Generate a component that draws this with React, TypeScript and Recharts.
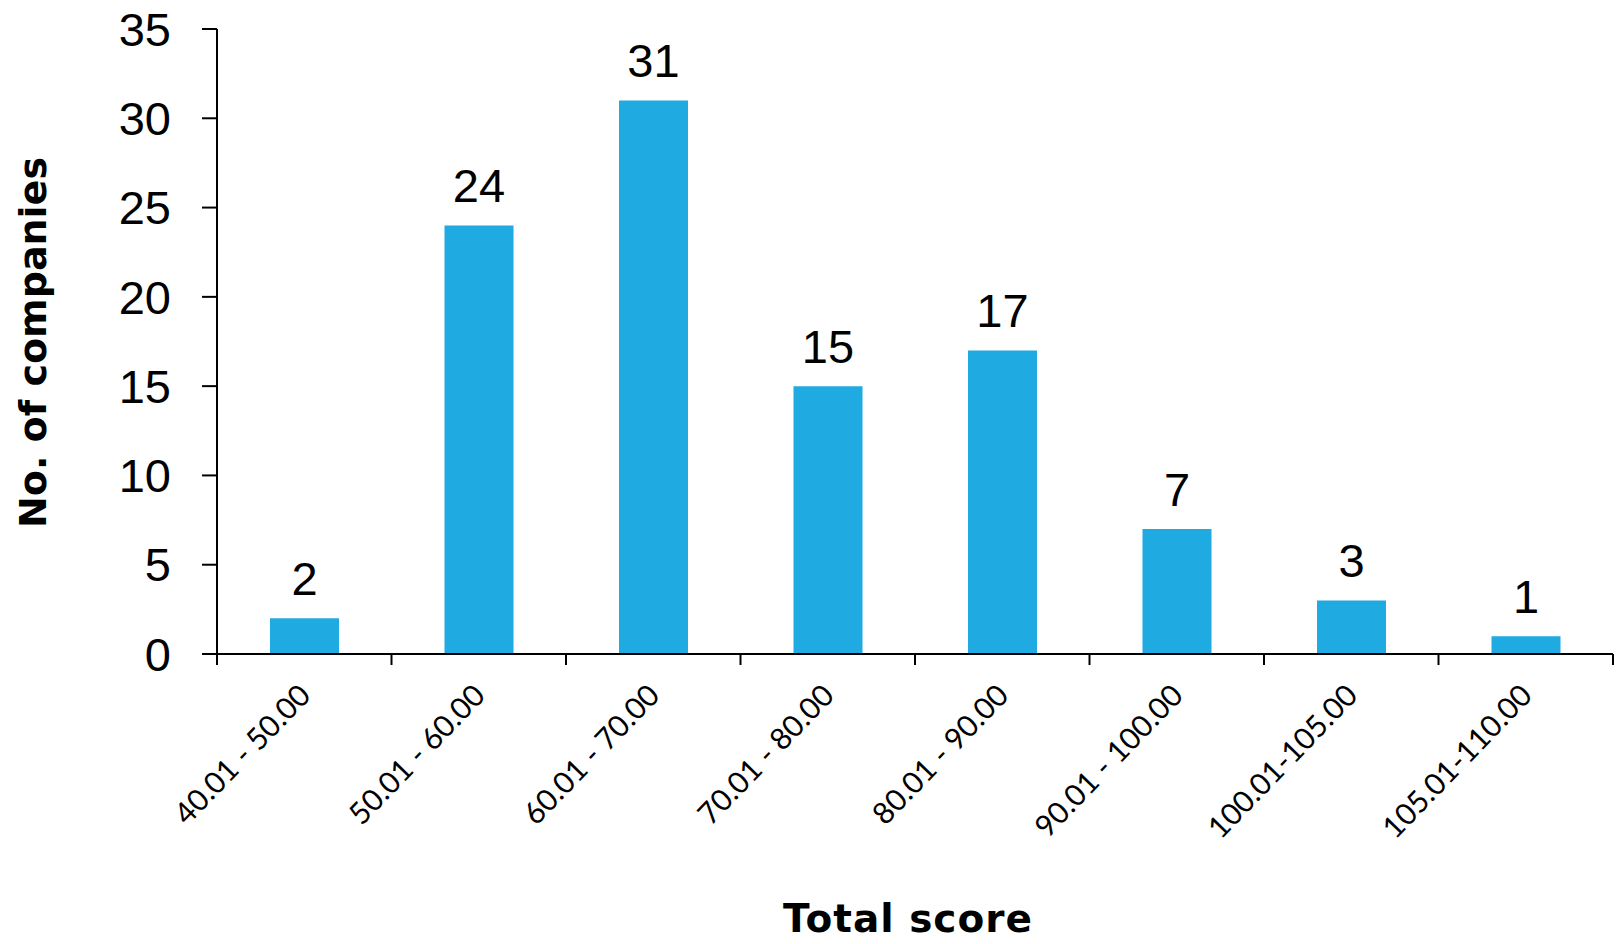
import React from 'react';
import { BarChart, Bar, XAxis, YAxis, LabelList, Label } from 'recharts';

const categories = [
  '40.01 - 50.00',
  '50.01 - 60.00',
  '60.01 - 70.00',
  '70.01 - 80.00',
  '80.01 - 90.00',
  '90.01 - 100.00',
  '100.01-105.00',
  '105.01-110.00',
];
const companies = [2, 24, 31, 15, 17, 7, 3, 1];
const yTicks = [0, 5, 10, 15, 20, 25, 30, 35];

const data = categories.map((c, i) => ({ range: c, count: companies[i] }));

const W = 1622;
const H = 944;
const M = { top: 29, right: 9, left: 0, bottom: 0 };
const Y_W = 217;
const X_H = 290;
const PLOT_W = W - M.left - M.right - Y_W;
const BAND = PLOT_W / categories.length;

const REG = "Lato, 'Liberation Sans', sans-serif";
const TICK = "'Liberation Sans', Arial, sans-serif";
const BOLD = "'DejaVu Sans', sans-serif";
const BAR = '#1FAAE1';

function XTick(props: any) {
  const { x, y, payload, index } = props;
  const left = x - BAND / 2;
  const right = x + BAND / 2;
  const tx = x + 8;
  const ty = y + 43;
  return (
    <g>
      <line x1={left} y1={y} x2={left} y2={y + 11} stroke="#000" strokeWidth={2} />
      {index === categories.length - 1 && (
        <line x1={right} y1={y} x2={right} y2={y + 11} stroke="#000" strokeWidth={2} />
      )}
      <text
        x={tx}
        y={ty}
        transform={`rotate(-46 ${tx} ${ty})`}
        textAnchor="end"
        fontSize={30}
        fontFamily={REG}
        fill="#000"
      >
        {payload.value}
      </text>
    </g>
  );
}

export default function App() {
  return (
    <div style={{ width: W, height: H, margin: '-8px 0 0 -8px' }}>
      <BarChart width={W} height={H} data={data} margin={M}>
        <XAxis
          dataKey="range"
          type="category"
          height={X_H}
          tickSize={0}
          tickMargin={0}
          tickLine={false}
          axisLine={{ stroke: '#000', strokeWidth: 2 }}
          tick={<XTick />}
          interval={0}
        >
          <Label
            content={(p: any) => {
              const vb = p.viewBox;
              return (
                <text
                  x={vb.x + vb.width / 2 - 7}
                  y={vb.y + 264}
                  textAnchor="middle"
                  dominantBaseline="central"
                  fontSize={39}
                  letterSpacing={1}
                  fontWeight="bold"
                  fontFamily={BOLD}
                  fill="#000"
                >
                  Total score
                </text>
              );
            }}
          />
        </XAxis>
        <YAxis
          type="number"
          domain={[0, 35]}
          ticks={yTicks}
          interval={0}
          width={Y_W}
          tickSize={15}
          tickMargin={31}
          tickLine={{ stroke: '#000', strokeWidth: 2 }}
          axisLine={{ stroke: '#000', strokeWidth: 2 }}
          tick={{ fontSize: 47, fill: '#000', fontFamily: TICK }}
        >
          <Label
            content={(p: any) => {
              const vb = p.viewBox;
              const cx = vb.x + 33;
              const cy = vb.y + vb.height / 2 + 1;
              return (
                <text
                  x={cx}
                  y={cy}
                  transform={`rotate(-90 ${cx} ${cy})`}
                  textAnchor="middle"
                  dominantBaseline="central"
                  fontSize={38}
                  fontWeight="bold"
                  fontFamily={BOLD}
                  fill="#000"
                >
                  No. of companies
                </text>
              );
            }}
          />
        </YAxis>
        <Bar dataKey="count" fill={BAR} barSize={69} isAnimationActive={false}>
          <LabelList
            dataKey="count"
            position="top"
            offset={23}
            fontSize={47}
            fill="#000"
            fontFamily={TICK}
          />
        </Bar>
      </BarChart>
    </div>
  );
}
